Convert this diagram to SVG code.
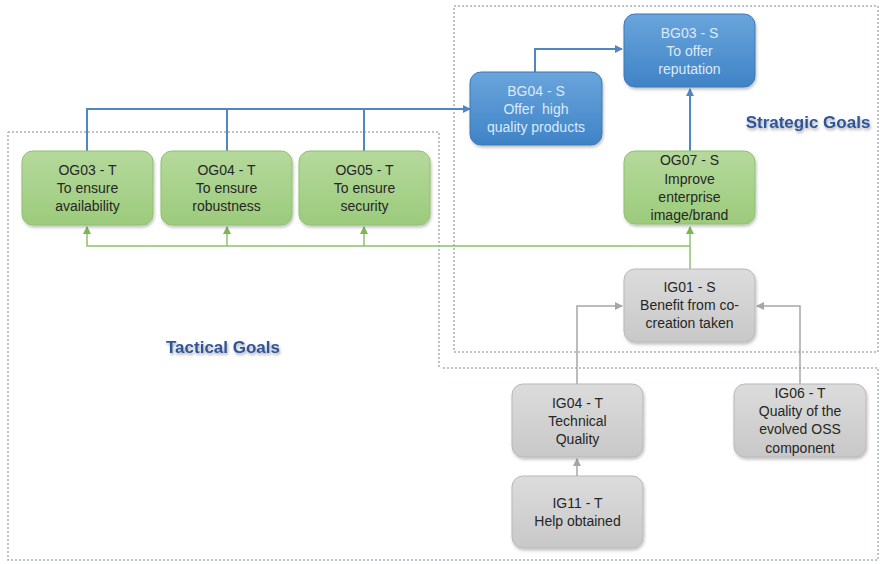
<svg xmlns="http://www.w3.org/2000/svg" width="880" height="564" viewBox="0 0 880 564">
<defs>
<linearGradient id="gGreen" x1="0" y1="0" x2="0" y2="1"><stop offset="0" stop-color="#b5d99c"/><stop offset="1" stop-color="#9ccb7c"/></linearGradient>
<linearGradient id="gBlue" x1="0" y1="0" x2="0" y2="1"><stop offset="0" stop-color="#6aa5dc"/><stop offset="1" stop-color="#3f83c6"/></linearGradient>
<linearGradient id="gGrey" x1="0" y1="0" x2="0" y2="1"><stop offset="0" stop-color="#dcdcdc"/><stop offset="1" stop-color="#c8c8c8"/></linearGradient>
<filter id="sh" x="-10%" y="-10%" width="130%" height="140%"><feDropShadow dx="1" dy="2" stdDeviation="1.5" flood-color="#000" flood-opacity="0.25"/></filter>
<filter id="tsh" x="-10%" y="-30%" width="120%" height="170%"><feDropShadow dx="1" dy="2" stdDeviation="1.5" flood-color="#000" flood-opacity="0.35"/></filter>
<marker id="aBlue" markerWidth="8" markerHeight="8" refX="7" refY="4" orient="auto" markerUnits="userSpaceOnUse"><path d="M0,0 L8,4 L0,8 z" fill="#4f87c4"/></marker>
<marker id="aGreen" markerWidth="8" markerHeight="8" refX="7" refY="4" orient="auto" markerUnits="userSpaceOnUse"><path d="M0,0 L8,4 L0,8 z" fill="#7cb653"/></marker>
<marker id="aGrey" markerWidth="8" markerHeight="8" refX="7" refY="4" orient="auto" markerUnits="userSpaceOnUse"><path d="M0,0 L8,4 L0,8 z" fill="#a6a6a6"/></marker>
</defs>
<style>
.box{fill:none;stroke:#a9afb8;stroke-width:1.5;stroke-dasharray:2 2}
.green{fill:url(#gGreen);stroke:#8fc06e;stroke-width:1}
.blue{fill:url(#gBlue);stroke:#3d78b6;stroke-width:1}
.grey{fill:url(#gGrey);stroke:#b8b8b8;stroke-width:1}
.t{font-family:"Liberation Sans",Arial,sans-serif;font-size:14px;text-anchor:middle;fill:#262626}
.tb{font-family:"Liberation Sans",Arial,sans-serif;font-size:14px;text-anchor:middle;fill:#dde9f7;white-space:pre}
.lbl{font-family:"Liberation Sans",Arial,sans-serif;font-size:17px;font-weight:bold;fill:#2f5597;text-anchor:middle}
.cb{fill:none;stroke:#4f87c4;stroke-width:2}
.cg{fill:none;stroke:#8cc26a;stroke-width:1.5}
.cgr{fill:none;stroke:#a6a6a6;stroke-width:1.5}
</style>
<rect width="880" height="564" fill="#ffffff"/>
<g id="regions">
<path class="box" d="M8,132 H439 V368 M443,368 H878 V560 H8 V132"/>
<rect class="box" x="454" y="6" width="424" height="346"/>
<text class="lbl" x="808" y="128" filter="url(#tsh)">Strategic Goals</text>
<text class="lbl" x="223" y="353" filter="url(#tsh)">Tactical Goals</text>
</g>
<g id="connectors">
<path class="cb" d="M87,151 V109 H470" marker-end="url(#aBlue)"/>
<path class="cb" d="M227,151 V109"/>
<path class="cb" d="M364,151 V109"/>
<path class="cb" d="M535,72 V49 H622" marker-end="url(#aBlue)"/>
<path class="cb" d="M690,151 V89" marker-end="url(#aBlue)"/>
<path class="cg" d="M690,269 V227" marker-end="url(#aGreen)"/>
<path class="cg" d="M690,246 H87 V227" marker-end="url(#aGreen)"/>
<path class="cg" d="M227,246 V227" marker-end="url(#aGreen)"/>
<path class="cg" d="M364,246 V227" marker-end="url(#aGreen)"/>
<path class="cgr" d="M577,384 V306 H622" marker-end="url(#aGrey)"/>
<path class="cgr" d="M800,384 V306 H757" marker-end="url(#aGrey)"/>
<path class="cgr" d="M577,476 V459" marker-end="url(#aGrey)"/>
</g>
<g id="OG03"><rect class="green" x="22" y="151" width="131" height="74" rx="11" filter="url(#sh)"/><text class="t" x="87.5" y="175">OG03 - T</text><text class="t" x="87.5" y="193">To ensure</text><text class="t" x="87.5" y="211">availability</text></g>
<g id="OG04"><rect class="green" x="161" y="151" width="131" height="74" rx="11" filter="url(#sh)"/><text class="t" x="226.5" y="175">OG04 - T</text><text class="t" x="226.5" y="193">To ensure</text><text class="t" x="226.5" y="211">robustness</text></g>
<g id="OG05"><rect class="green" x="299" y="151" width="131" height="74" rx="11" filter="url(#sh)"/><text class="t" x="364.5" y="175">OG05 - T</text><text class="t" x="364.5" y="193">To ensure</text><text class="t" x="364.5" y="211">security</text></g>
<g id="BG04"><rect class="blue" x="470" y="72" width="132" height="73" rx="11" filter="url(#sh)"/><text class="tb" x="536" y="96">BG04 - S</text><text class="tb" x="536" y="114">Offer  high</text><text class="tb" x="536" y="132">quality products</text></g>
<g id="BG03"><rect class="blue" x="624" y="14" width="131" height="73" rx="11" filter="url(#sh)"/><text class="tb" x="689.5" y="38">BG03 - S</text><text class="tb" x="689.5" y="56">To offer</text><text class="tb" x="689.5" y="74">reputation</text></g>
<g id="OG07"><rect class="green" x="624" y="151" width="131" height="73" rx="11" filter="url(#sh)"/><text class="t" x="689.5" y="165">OG07 - S</text><text class="t" x="689.5" y="184">Improve</text><text class="t" x="689.5" y="202">enterprise</text><text class="t" x="689.5" y="220">image/brand</text></g>
<g id="IG01"><rect class="grey" x="624" y="269" width="131" height="73" rx="11" filter="url(#sh)"/><text class="t" x="689.5" y="292">IG01 - S</text><text class="t" x="689.5" y="310">Benefit from co-</text><text class="t" x="689.5" y="328">creation taken</text></g>
<g id="IG04"><rect class="grey" x="512" y="384" width="131" height="73" rx="11" filter="url(#sh)"/><text class="t" x="577.5" y="408">IG04 - T</text><text class="t" x="577.5" y="426">Technical</text><text class="t" x="577.5" y="444">Quality</text></g>
<g id="IG06"><rect class="grey" x="734" y="384" width="132" height="73" rx="11" filter="url(#sh)"/><text class="t" x="800" y="398">IG06 - T</text><text class="t" x="800" y="416">Quality of the</text><text class="t" x="800" y="434">evolved OSS</text><text class="t" x="800" y="453">component</text></g>
<g id="IG11"><rect class="grey" x="512" y="476" width="131" height="72" rx="11" filter="url(#sh)"/><text class="t" x="577.5" y="508">IG11 - T</text><text class="t" x="577.5" y="526">Help obtained</text></g>
</svg>
